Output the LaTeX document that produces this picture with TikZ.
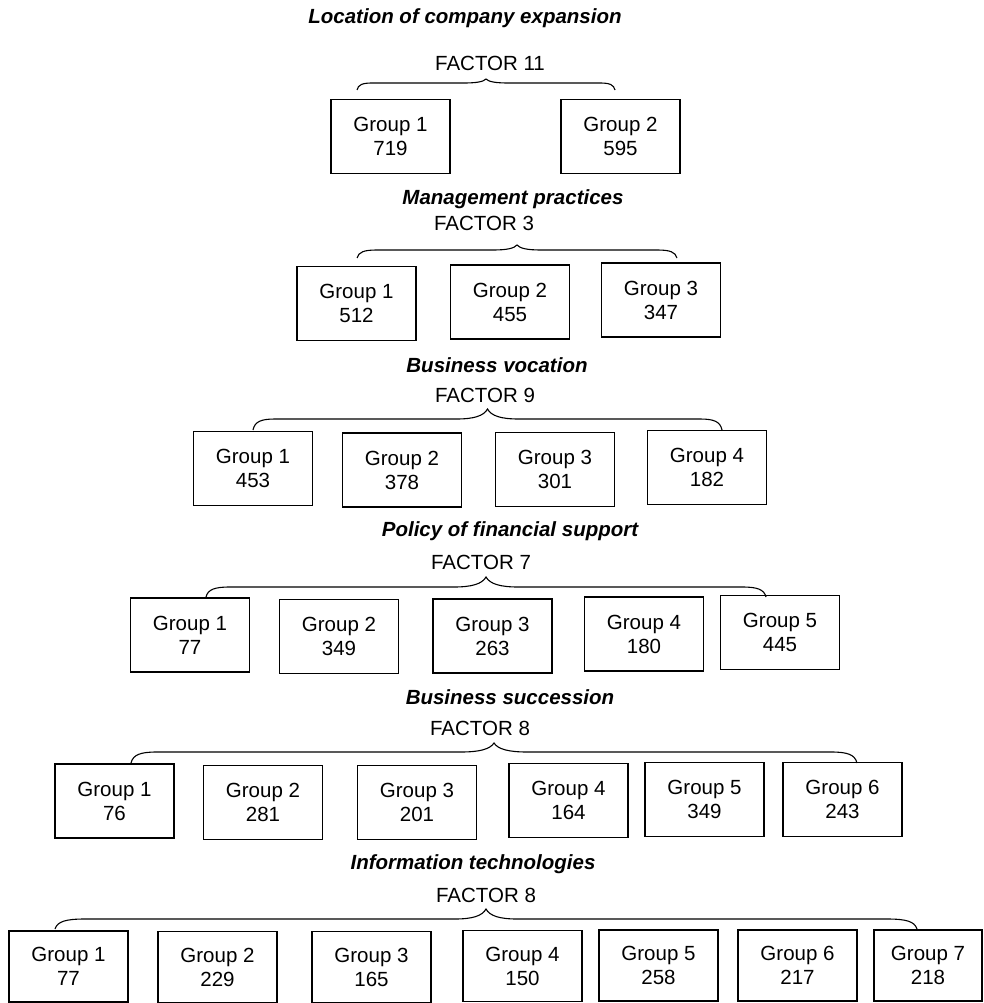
\documentclass[tikz,border=0pt]{standalone}
\usepackage{fontspec}
\setmainfont{Liberation Sans}
\usetikzlibrary{calc}
% #1 left end, #2 right end, #3 line height, #4 tip height, #5 end curl width, #6 tip curl width
\newcommand\mybrace[6]{%
  \draw[brcline] let \p1=(#1), \p2=(#2), \n1={(\x1+\x2)/2} in
    (\x1,\y1) .. controls ({\x1+0.08*#5pt},{\y1+0.75*#3pt}) and ({\x1+0.35*#5pt},{\y1+#3pt}) .. ({\x1+#5pt},{\y1+#3pt})
    -- ({\n1-#6pt},{\y1+#3pt})
    .. controls ({\n1-0.45*#6pt},{\y1+#3pt}) and ({\n1-0.12*#6pt},{\y1+#3pt+0.3*(#4-#3)*1pt}) .. (\n1,{\y1+#4pt})
    .. controls ({\n1+0.12*#6pt},{\y1+#3pt+0.3*(#4-#3)*1pt}) and ({\n1+0.45*#6pt},{\y1+#3pt}) .. ({\n1+#6pt},{\y1+#3pt})
    -- ({\x2-#5pt},{\y1+#3pt})
    .. controls ({\x2-0.35*#5pt},{\y1+#3pt}) and ({\x2-0.08*#5pt},{\y1+0.75*#3pt}) .. (\x2,\y1);}
\begin{document}
\begin{tikzpicture}[x=1pt,y=-1pt,
  grp/.style={draw, line width=1.2pt, minimum width=119pt, minimum height=74pt, inner sep=0pt, align=center, font=\fontsize{20.5}{24}\selectfont},
  ttl/.style={font=\fontsize{20.5}{24}\selectfont\bfseries\itshape},
  fct/.style={font=\fontsize{20.5}{24}\selectfont},
  brcline/.style={draw, line width=1.1pt}]
\useasboundingbox (0,0) rectangle (984,1003);

% Section 1
\node[ttl] (t1) at (465,18) {Location of company expansion};
\node[fct] (f1) at (490,63) {FACTOR 11};
\coordinate (b1l) at (357,90); \coordinate (b1r) at (615,90);
\mybrace{b1l}{b1r}{7}{11}{15}{22}
\node[grp] (g11) at (390.5,136.5) {Group 1\\719};
\node[grp] (g12) at (620.5,136.5) {Group 2\\595};

% Section 2
\node[ttl] (t2) at (513,199) {Management practices};
\node[fct] (f2) at (484,223) {FACTOR 3};
\coordinate (b2l) at (357,258); \coordinate (b2r) at (677,258);
\mybrace{b2l}{b2r}{8}{13}{20}{24}
\node[grp] (g21) at (356.5,303.5) {Group 1\\512};
\node[grp] (g22) at (510,302) {Group 2\\455};
\node[grp] (g23) at (661,300) {Group 3\\347};

% Section 3
\node[ttl] (t3) at (497,365) {Business vocation};
\node[fct] (f3) at (485,395) {FACTOR 9};
\coordinate (b3l) at (253,430); \coordinate (b3r) at (722,430);
\mybrace{b3l}{b3r}{11}{21}{22}{31}
\node[grp] (g31) at (253,468.5) {Group 1\\453};
\node[grp] (g32) at (402,470) {Group 2\\378};
\node[grp] (g33) at (555,469.5) {Group 3\\301};
\node[grp] (g34) at (707,467.5) {Group 4\\182};

% Section 4
\node[ttl] (t4) at (510,531) {Policy of financial support};
\node[fct] (f4) at (481,562) {FACTOR 7};
\coordinate (b4l) at (206,597); \coordinate (b4r) at (766,597);
\mybrace{b4l}{b4r}{10}{20}{24}{32}
\node[grp] (g41) at (190,635) {Group 1\\77};
\node[grp] (g42) at (339,636.5) {Group 2\\349};
\node[grp] (g43) at (492.5,636) {Group 3\\263};
\node[grp] (g44) at (644,634) {Group 4\\180};
\node[grp] (g45) at (780,632.5) {Group 5\\445};

% Section 5
\node[ttl] (t5) at (510,697) {Business succession};
\node[fct] (f5) at (480,728) {FACTOR 8};
\coordinate (b5l) at (131,763); \coordinate (b5r) at (857,763);
\mybrace{b5l}{b5r}{11}{20}{26}{33}
\node[grp] (g51) at (114.5,801) {Group 1\\76};
\node[grp] (g52) at (263,802.5) {Group 2\\281};
\node[grp] (g53) at (417,802.5) {Group 3\\201};
\node[grp] (g54) at (568.5,800.5) {Group 4\\164};
\node[grp] (g55) at (704.5,799.5) {Group 5\\349};
\node[grp] (g56) at (842.5,799.5) {Group 6\\243};

% Section 6
\node[ttl] (t6) at (473,864) {Information technologies};
\node[fct] (f6) at (486,895) {FACTOR 8};
\coordinate (b6l) at (55,929); \coordinate (b6r) at (917,929);
\mybrace{b6l}{b6r}{10}{20}{30}{31}
\node[grp, minimum height=71pt] (g61) at (68.5,966.5) {Group 1\\77};
\node[grp, minimum height=71pt] (g62) at (217.5,967) {Group 2\\229};
\node[grp, minimum height=71pt] (g63) at (371.5,967) {Group 3\\165};
\node[grp, minimum height=71pt] (g64) at (522.5,966) {Group 4\\150};
\node[grp, minimum height=71pt] (g65) at (658.5,965.5) {Group 5\\258};
\node[grp, minimum height=71pt] (g66) at (797.5,965.5) {Group 6\\217};
\node[grp, minimum height=71pt, minimum width=108pt] (g67) at (928,965.5) {Group 7\\218};
\end{tikzpicture}
\end{document}
